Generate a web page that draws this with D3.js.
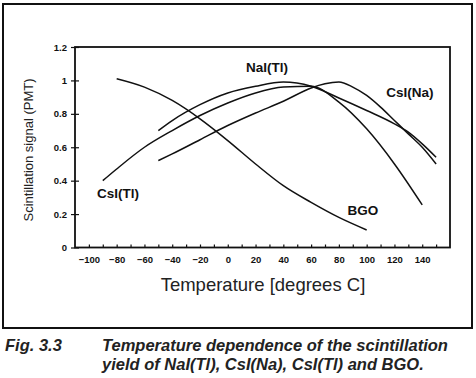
<!DOCTYPE html>
<html>
<head>
<meta charset="utf-8">
<script src="https://cdn.jsdelivr.net/npm/d3@7"></script>
<style>
  body { margin: 0; background: #fff; }
  svg { font-family: "Liberation Sans", Arial, sans-serif; display: block; }
  .tick text { font-weight: bold; font-size: 9.5px; fill: #111; }
  .lbl { font-weight: bold; font-size: 13.5px; fill: #111; }
</style>
</head>
<body>
<svg id="chart" width="476" height="378"></svg>
<script>
// temperatures (degrees C) and scintillation signal
const bgoT = [-80, -60, -40, -20, 0, 20, 40, 60, 80, 100];
const bgoV = [1.01, 0.96, 0.88, 0.77, 0.64, 0.50, 0.37, 0.27, 0.18, 0.105];

const csiTlT = [-90, -80, -60, -40, -20, 0, 20, 40, 60, 80, 100, 120, 140];
const csiTlV = [0.40, 0.47, 0.60, 0.70, 0.79, 0.865, 0.925, 0.96, 0.965, 0.87, 0.71, 0.50, 0.255];

const naiT = [-50, -40, -20, 0, 20, 40, 60, 80, 100, 120, 130, 140, 150];
const naiV = [0.70, 0.76, 0.855, 0.925, 0.965, 0.99, 0.965, 0.895, 0.82, 0.74, 0.69, 0.62, 0.54];

const csiNaT = [-50, -40, -20, 0, 20, 40, 60, 70, 80, 90, 100, 110, 120, 130, 140, 150];
const csiNaV = [0.52, 0.56, 0.645, 0.73, 0.805, 0.875, 0.955, 0.98, 0.99, 0.96, 0.91, 0.84, 0.76, 0.68, 0.60, 0.50];

const xTicks = [-100, -80, -60, -40, -20, 0, 20, 40, 60, 80, 100, 120, 140];
const yTicks = [0, 0.2, 0.4, 0.6, 0.8, 1, 1.2];

const series = [
  { name: "BGO", t: bgoT, v: bgoV, lx: 363, ly: 215 },
  { name: "CsI(Tl)", t: csiTlT, v: csiTlV, lx: 118, ly: 198 },
  { name: "NaI(Tl)", t: naiT, v: naiV, lx: 267, ly: 72 },
  { name: "CsI(Na)", t: csiNaT, v: csiNaV, lx: 410, ly: 97 }
];

const svg = d3.select("#chart");

// outer frame
svg.append("rect")
  .attr("x", 3).attr("y", 4)
  .attr("width", 469).attr("height", 324)
  .attr("fill", "none").attr("stroke", "#111").attr("stroke-width", 2);

const box = { l: 75, r: 450, t: 47, b: 247.5 };
const x = d3.scaleLinear().domain([-110, 160]).range([box.l, box.r]);
const y = d3.scaleLinear().domain([0, 1.2]).range([box.b, box.t]);

// y axis: labels + outward ticks, then inward ticks
svg.append("g")
  .attr("transform", `translate(${box.l},0)`)
  .call(d3.axisLeft(y).tickValues(yTicks).tickSize(4).tickPadding(4)
    .tickFormat(d => d3.format("~g")(d)))
  .call(g => g.select(".domain").remove())
  .call(g => g.selectAll("line").attr("stroke", "#111").attr("stroke-width", 1.2));
svg.append("g")
  .attr("transform", `translate(${box.l},0)`)
  .call(d3.axisLeft(y).tickValues(yTicks).tickSize(-4).tickFormat(""))
  .call(g => g.select(".domain").remove())
  .call(g => g.selectAll("line").attr("stroke", "#111").attr("stroke-width", 1.2));

// x axis: labels every 20, inward ticks every 10
svg.append("g")
  .attr("transform", `translate(0,${box.b})`)
  .call(d3.axisBottom(x).tickValues(xTicks).tickSize(0).tickPadding(9))
  .call(g => g.select(".domain").remove());
svg.append("g")
  .attr("transform", `translate(0,${box.b})`)
  .call(d3.axisBottom(x).tickValues(d3.range(-100, 151, 10)).tickSize(-3).tickFormat(""))
  .call(g => g.select(".domain").remove())
  .call(g => g.selectAll("line").attr("stroke", "#111").attr("stroke-width", 1.2));

// plot box
svg.append("rect")
  .attr("x", box.l).attr("y", box.t)
  .attr("width", box.r - box.l).attr("height", box.b - box.t)
  .attr("fill", "none").attr("stroke", "#111").attr("stroke-width", 1.8);

// curves
const line = d3.line()
  .x(d => x(d[0]))
  .y(d => y(d[1]))
  .curve(d3.curveMonotoneX);

series.forEach(s => {
  const pts = s.t.map((t, i) => [t, s.v[i]]);
  svg.append("path")
    .attr("d", line(pts))
    .attr("fill", "none")
    .attr("stroke", "#111")
    .attr("stroke-width", 1.5);
  svg.append("text")
    .attr("class", "lbl")
    .attr("x", s.lx).attr("y", s.ly)
    .attr("text-anchor", "middle")
    .text(s.name);
});

// axis titles
svg.append("text")
  .attr("transform", "translate(33,150) rotate(-90)")
  .attr("text-anchor", "middle")
  .attr("font-size", 13)
  .attr("fill", "#222")
  .text("Scintillation signal (PMT)");

svg.append("text")
  .attr("x", 263).attr("y", 291)
  .attr("text-anchor", "middle")
  .attr("font-size", 18.5)
  .attr("fill", "#222")
  .text("Temperature [degrees C]");

// caption
const cap = svg.append("g")
  .attr("font-weight", "bold")
  .attr("font-style", "italic")
  .attr("font-size", 16.5)
  .attr("fill", "#222");
cap.append("text").attr("x", 5).attr("y", 351).text("Fig. 3.3");
cap.append("text").attr("x", 102).attr("y", 351).text("Temperature dependence of the scintillation");
cap.append("text").attr("x", 102).attr("y", 370).text("yield of NaI(Tl), CsI(Na), CsI(Tl) and BGO.");
</script>
</body>
</html>
